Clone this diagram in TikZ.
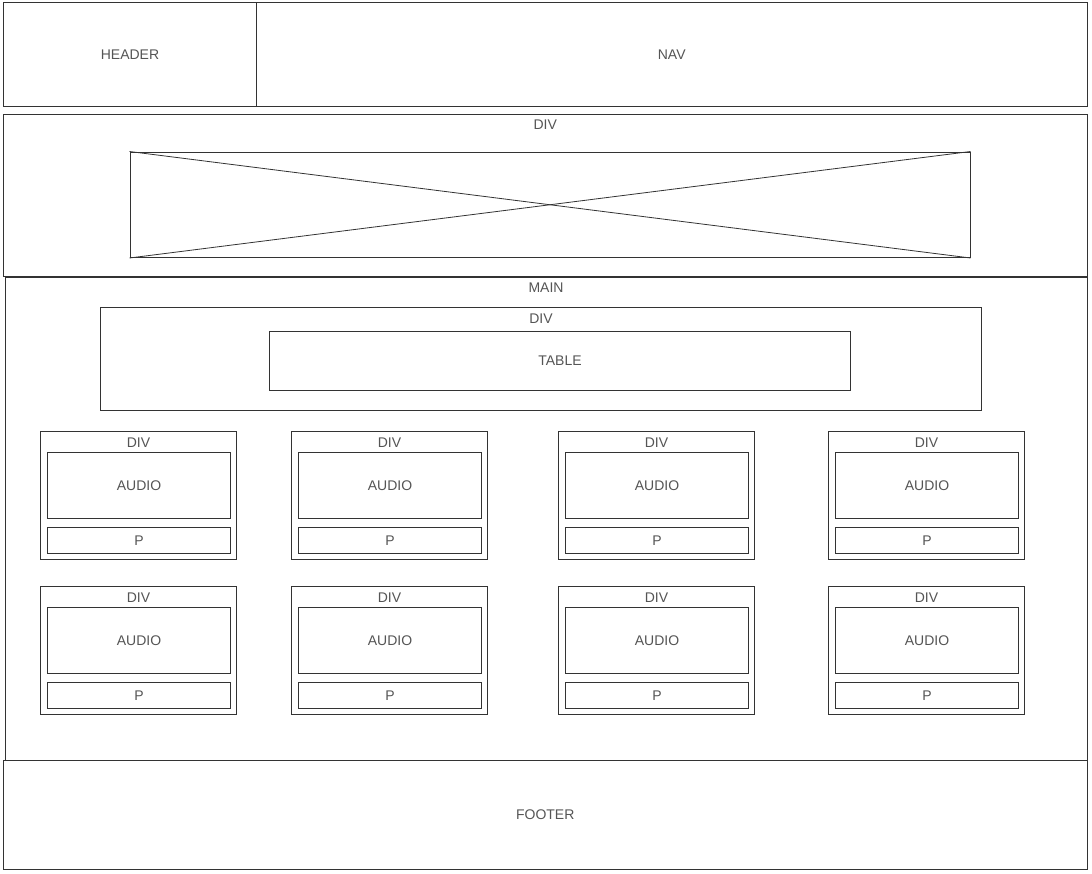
\documentclass[tikz,border=0pt]{standalone}
\usepackage{fontspec}
\setmainfont{Liberation Sans}
\usetikzlibrary{positioning}
\definecolor{linegray}{HTML}{333333}
\definecolor{textgray}{HTML}{555555}

\begin{document}
\begin{tikzpicture}[x=1pt,y=-1pt,line width=1pt,
    every node/.style={font=\fontsize{14}{16}\selectfont,text=textgray},
    box/.style={rectangle,draw=linegray,fill=white,inner sep=0pt,anchor=north west},
    tag/.style={rectangle,draw=none,inner sep=0pt}]
    \useasboundingbox[fill=white] (0,0) rectangle (1092,873);

    % top bar
    \node[box, minimum width=253pt, minimum height=104pt] (header) at (3,2) {HEADER};
    \node[box, minimum width=830.5pt, minimum height=104pt] (nav) at (256,2) {NAV};

    % banner with image placeholder
    \node[box, minimum width=1083.5pt, minimum height=161.5pt] (banner) at (3,114) {};
    \node[tag, below=5pt of banner.north] (bannertag) {DIV};
    \node[box, minimum width=840pt, minimum height=105.5pt] (img) at (129.5,151.5) {};
    \draw[draw=linegray, line width=0.8pt] (img.north west) -- (img.south east);
    \draw[draw=linegray, line width=0.8pt] (img.south west) -- (img.north east);

    % main
    \node[box, minimum width=1082pt, minimum height=482.7pt] (main) at (4.5,277.3) {};
    \node[tag, below=5pt of main.north] (maintag) {MAIN};
    \node[box, minimum width=881pt, minimum height=103pt] (tablediv) at (100,307) {};
    \node[tag, below=6pt of tablediv.north] (tabledivtag) {DIV};
    \node[box, minimum width=581pt, minimum height=59pt] (table) at (269,331) {TABLE};

    % audio cards
    \foreach \cx in {40,291,558,828} {
        \foreach \cy in {431,586} {
            \node[box, minimum width=196pt, minimum height=128pt] (card-\cx-\cy) at (\cx,\cy) {};
            \node[tag, below=6pt of card-\cx-\cy.north] (cardtag-\cx-\cy) {DIV};
            \node[box, minimum width=183pt, minimum height=66pt] (audio-\cx-\cy) at (\cx+7,\cy+21) {AUDIO};
            \node[box, minimum width=183pt, minimum height=26pt] (p-\cx-\cy) at (\cx+7,\cy+96) {P};
        }
    }

    % footer
    \node[box, minimum width=1083.5pt, minimum height=109pt] (footer) at (3,760) {FOOTER};
\end{tikzpicture}
\end{document}
